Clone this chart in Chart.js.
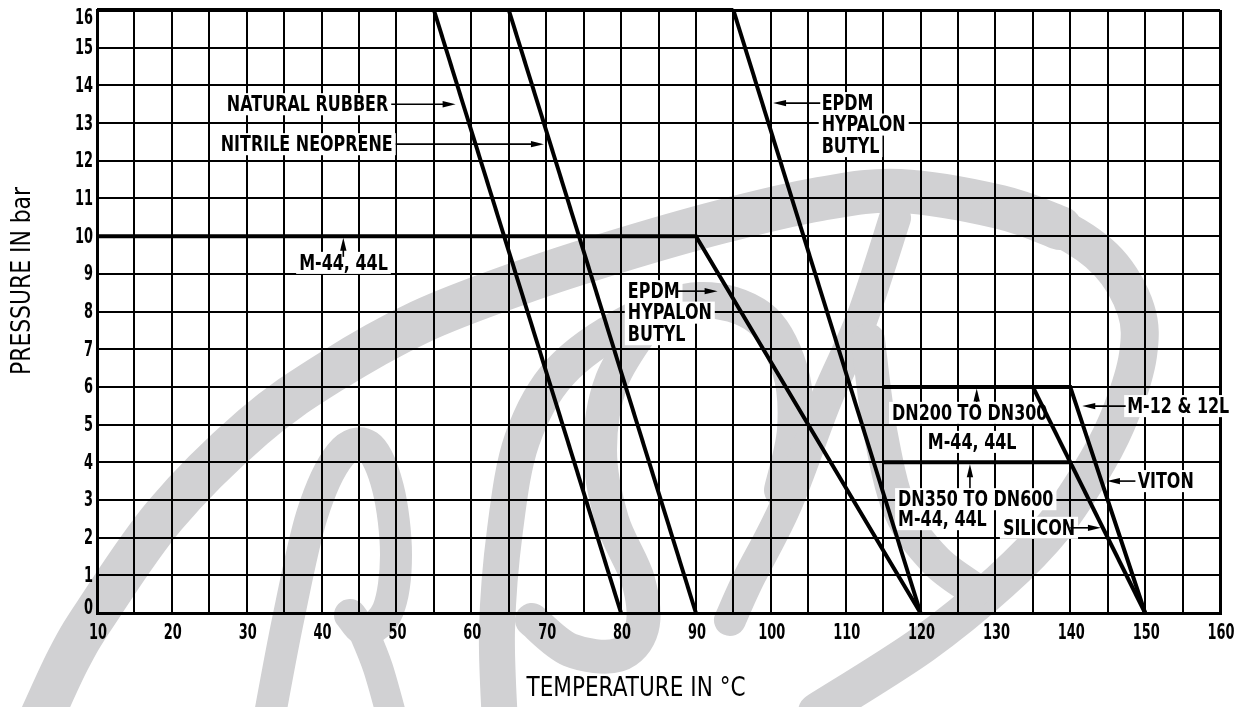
<!DOCTYPE html>
<html>
<head>
<meta charset="utf-8">
<script src="https://cdn.jsdelivr.net/npm/chart.js@4.4.1/dist/chart.umd.min.js"></script>
<style>
  html, body { margin: 0; padding: 0; background: #fff; }
  #wrap { width: 1254px; height: 707px; }
</style>
</head>
<body>
<div id="wrap"><canvas id="chart" width="1254" height="707"></canvas></div>
<script>
// pressure / temperature ratings
const TEMP_GRID = [10, 15, 20, 25, 30, 35, 40, 45, 50, 55, 60, 65, 70, 75, 80,
  85, 90, 95, 100, 105, 110, 115, 120, 125, 130, 135, 140, 145, 150, 155, 160];
const TEMP_LABELS = [10, 20, 30, 40, 50, 60, 70, 80, 90, 100, 110, 120, 130, 140, 150, 160];
const PRESSURE_TICKS = [0, 1, 2, 3, 4, 5, 6, 7, 8, 9, 10, 11, 12, 13, 14, 15, 16];

const topLimitT = [10, 95];          const topLimitP = [16, 16];
const naturalRubberT = [55, 80];     const naturalRubberP = [16, 0];
const nitrileT = [65, 90];           const nitrileP = [16, 0];
const epdmT = [95, 120];             const epdmP = [16, 0];
const m44T = [10, 90, 120];          const m44P = [10, 10, 0];
const dn200T = [115, 140, 150];      const dn200P = [6, 6, 0];
const siliconT = [135, 150];         const siliconP = [6, 0];
const dn350T = [115, 140];           const dn350P = [4, 4];

// callouts: text lines, anchor (temp, pressure), alignment, arrow from -> to
const notes = [
  { lines: ["NATURAL RUBBER"], x: 48.9, y: 13.5, align: "right", arrow: [49.3, 13.5, 57.9, 13.5] },
  { lines: ["NITRILE NEOPRENE"], x: 49.5, y: 12.44, align: "right", arrow: [49.9, 12.44, 69.7, 12.44] },
  { lines: ["EPDM", "HYPALON", "BUTYL"], x: 106.8, y: 13.53, align: "left", arrow: [106.6, 13.53, 100.3, 13.53] },
  { lines: ["M-44, 44L"], x: 37.0, y: 9.29, align: "left", arrow: [42.9, 9.45, 42.9, 9.96] },
  { lines: ["EPDM", "HYPALON", "BUTYL"], x: 80.9, y: 8.54, align: "left", arrow: [87.6, 8.54, 92.9, 8.54] },
  { lines: ["DN200 TO DN300"], x: 116.2, y: 5.31, align: "left", arrow: [127.5, 5.6, 127.5, 5.96] },
  { lines: ["M-44, 44L"], x: 126.9, y: 4.54, align: "center", arrow: [126.6, 3.3, 126.6, 3.95] },
  { lines: ["DN350 TO DN600"], x: 117.0, y: 3.02, align: "left" },
  { lines: ["M-44, 44L"], x: 117.0, y: 2.49, align: "left" },
  { lines: ["SILICON"], x: 131.0, y: 2.26, align: "left", arrow: [140.0, 2.26, 144.1, 2.26] },
  { lines: ["M-12 & 12L"], x: 147.6, y: 5.49, align: "left", arrow: [147.4, 5.49, 141.6, 5.49] },
  { lines: ["VITON"], x: 149.0, y: 3.5, align: "left", arrow: [148.7, 3.5, 144.9, 3.5] }
];

const FONT = "'DejaVu Sans', 'Liberation Sans', sans-serif";

// the drawing uses a tall narrow stencil font: squeeze DejaVu horizontally
const probe = document.createElement("canvas").getContext("2d");
function squeezeFor(str, size, weight, width) {
  probe.font = `${weight} ${size}px ${FONT}`;
  return width / probe.measureText(str).width;
}
const NOTE_SIZE = 22, TICK_SIZE = 21, TITLE_SIZE = 27;
const noteSx = squeezeFor("HYPALON", NOTE_SIZE, "bold", 84);
const tickSx = squeezeFor("16", TICK_SIZE, "bold", 18);
const xTitleSx = squeezeFor("TEMPERATURE IN °C", TITLE_SIZE, "normal", 219);
const yTitleSx = squeezeFor("PRESSURE IN bar", TITLE_SIZE, "normal", 188);

function text(ctx, str, x, y, size, weight, sx, align) {
  ctx.font = `${weight} ${size}px ${FONT}`;
  const w = ctx.measureText(str).width * sx;
  const left = align === "right" ? x - w : align === "center" ? x - w / 2 : x;
  ctx.save();
  ctx.translate(left, y);
  ctx.scale(sx, 1);
  ctx.textAlign = "left";
  ctx.textBaseline = "middle";
  ctx.fillText(str, 0, 0);
  ctx.restore();
  return { left, w };
}

function series(xs, ys) {
  return {
    data: xs.map((x, i) => ({ x, y: ys[i] })),
    showLine: true,
    borderColor: "#000",
    borderWidth: 4,
    pointRadius: 0,
    borderJoinStyle: "miter",
    clip: false
  };
}

/* ---------------- WATERMARK (grey logo behind the grid) ---------------- */
const logoStrokes = [
  // big swoosh, rising part then the loop coming back down
  { w: 44, p: [[38, 725], [68, 660], [96, 613], [165, 515], [253, 427], [330, 372], [420, 322], [520, 283],
    [615, 252], [720, 222], [820, 199], [900, 191], [1000, 207], [1060, 228]] },
  { w: 38, p: [[1000, 207], [1060, 228], [1108, 262], [1136, 310], [1138, 355], [1122, 410], [1098, 460],
    [1055, 525], [1000, 582], [922, 645], [817, 712]] },
  // first letter
  { w: 32, p: [[268, 725], [288, 620], [312, 515], [340, 455], [368, 446], [388, 488], [396, 555],
    [388, 610], [366, 630], [350, 615]] },
  { w: 30, p: [[362, 628], [378, 668], [394, 725]] },
  // second letter
  { w: 36, p: [[500, 725], [497, 630], [505, 530], [522, 440], [560, 372], [630, 322], [700, 300],
    [760, 318], [790, 370], [795, 430], [782, 490]] },
  { w: 34, p: [[650, 318], [612, 380], [600, 450], [612, 520], [638, 580], [642, 628], [618, 655],
    [570, 650], [532, 620]] },
  // third letter
  { w: 32, p: [[895, 218], [862, 318], [826, 400], [786, 505], [748, 580], [730, 620]] },
  { w: 34, p: [[868, 340], [880, 430], [900, 510], [935, 560], [975, 590]] }
];

function smoothPath(ctx, p) {
  ctx.moveTo(p[0][0], p[0][1]);
  for (let i = 0; i < p.length - 1; i++) {
    const a = p[i - 1] || p[i], b = p[i], c = p[i + 1], d = p[i + 2] || c;
    ctx.bezierCurveTo(b[0] + (c[0] - a[0]) / 6, b[1] + (c[1] - a[1]) / 6,
      c[0] - (d[0] - b[0]) / 6, c[1] - (d[1] - b[1]) / 6, c[0], c[1]);
  }
}

const watermark = {
  id: "watermark",
  beforeDraw(chart) {
    const ctx = chart.ctx;
    ctx.save();
    ctx.fillStyle = "#fff";
    ctx.fillRect(0, 0, chart.width, chart.height);
    ctx.strokeStyle = "#d1d1d3";
    ctx.lineCap = "round";
    ctx.lineJoin = "round";
    logoStrokes.forEach(s => {
      ctx.lineWidth = s.w;
      ctx.beginPath();
      smoothPath(ctx, s.p);
      ctx.stroke();
    });
    ctx.restore();
  }
};

/* ---------------- CALLOUTS, TICK LABELS, TITLES ---------------- */
function arrow(ctx, x1, y1, x2, y2) {
  const ang = Math.atan2(y2 - y1, x2 - x1);
  const len = 13, half = 3.2;
  const c = Math.cos(ang), s = Math.sin(ang);
  ctx.lineWidth = 1.6;
  ctx.beginPath();
  ctx.moveTo(x1, y1);
  ctx.lineTo(x2 - c * len * 0.8, y2 - s * len * 0.8);
  ctx.stroke();
  ctx.beginPath();
  ctx.moveTo(x2, y2);
  ctx.lineTo(x2 - c * len - s * half, y2 - s * len + c * half);
  ctx.lineTo(x2 - c * len + s * half, y2 - s * len - c * half);
  ctx.closePath();
  ctx.fill();
}

const callouts = {
  id: "callouts",
  beforeDatasetsDraw(chart) {
    const { ctx, scales: { x, y } } = chart;
    ctx.save();
    const lineGap = 21.5, capH = NOTE_SIZE * 0.73;
    notes.forEach(n => {
      const px = x.getPixelForValue(n.x);
      const py = y.getPixelForValue(n.y);
      n.lines.forEach((t, i) => {
        ctx.font = `bold ${NOTE_SIZE}px ${FONT}`;
        const w = ctx.measureText(t).width * noteSx;
        const left = n.align === "right" ? px - w : n.align === "center" ? px - w / 2 : px;
        const ty = py + i * lineGap;
        ctx.fillStyle = "#fff";
        ctx.fillRect(left - 3, ty - capH / 2 - 3, w + 6, capH + 6);
        ctx.fillStyle = "#000";
        text(ctx, t, left, ty + 1, NOTE_SIZE, "bold", noteSx, "left");
      });
      if (n.arrow) {
        ctx.strokeStyle = "#000";
        ctx.fillStyle = "#000";
        const a = n.arrow;
        arrow(ctx, x.getPixelForValue(a[0]), y.getPixelForValue(a[1]),
          x.getPixelForValue(a[2]), y.getPixelForValue(a[3]));
      }
    });
    ctx.restore();
  },
  afterDraw(chart) {
    const { ctx, chartArea, scales: { x, y } } = chart;
    ctx.save();
    ctx.fillStyle = "#000";
    PRESSURE_TICKS.forEach(v => {
      const py = Math.min(Math.max(y.getPixelForValue(v), chartArea.top + 8), chartArea.bottom - 5);
      text(ctx, String(v), chartArea.left - 4, py + 1, TICK_SIZE, "bold", tickSx, "right");
    });
    TEMP_LABELS.forEach(v => {
      text(ctx, String(v), x.getPixelForValue(v) + 1, chartArea.bottom + 21, TICK_SIZE, "bold", tickSx, "center");
    });
    text(ctx, "TEMPERATURE IN °C", 636, 689, TITLE_SIZE, "normal", xTitleSx, "center");
    ctx.translate(23, 281);
    ctx.rotate(-Math.PI / 2);
    text(ctx, "PRESSURE IN bar", 0, 0, TITLE_SIZE, "normal", yTitleSx, "center");
    ctx.restore();
  }
};

const edgeWidth = (ctx, lo, hi) => (ctx.tick && (ctx.tick.value === lo || ctx.tick.value === hi)) ? 3 : 2;

new Chart(document.getElementById("chart"), {
  type: "scatter",
  data: {
    datasets: [
      series(topLimitT, topLimitP),
      series(naturalRubberT, naturalRubberP),
      series(nitrileT, nitrileP),
      series(epdmT, epdmP),
      series(m44T, m44P),
      series(dn200T, dn200P),
      series(siliconT, siliconP),
      series(dn350T, dn350P)
    ]
  },
  options: {
    responsive: false,
    animation: false,
    devicePixelRatio: 1,
    layout: { padding: { left: 0, right: 34, top: 10, bottom: 0 } },
    plugins: { legend: { display: false }, tooltip: { enabled: false } },
    scales: {
      x: {
        type: "linear",
        min: 10,
        max: 160,
        afterBuildTicks: s => { s.ticks = TEMP_GRID.map(v => ({ value: v })); },
        afterFit: s => { s.height = 94; s.paddingLeft = 0; s.paddingRight = 0; },
        grid: { color: "#000", lineWidth: c => edgeWidth(c, 10, 160), drawTicks: false },
        border: { display: true, color: "#000", width: 3 },
        ticks: { display: false }
      },
      y: {
        type: "linear",
        min: 0,
        max: 16,
        afterBuildTicks: s => { s.ticks = PRESSURE_TICKS.map(v => ({ value: v })); },
        afterFit: s => { s.width = 97; s.paddingTop = 0; s.paddingBottom = 0; },
        grid: { color: "#000", lineWidth: c => edgeWidth(c, 0, 16), drawTicks: false },
        border: { display: true, color: "#000", width: 3 },
        ticks: { display: false }
      }
    }
  },
  plugins: [watermark, callouts]
});
</script>
</body>
</html>
